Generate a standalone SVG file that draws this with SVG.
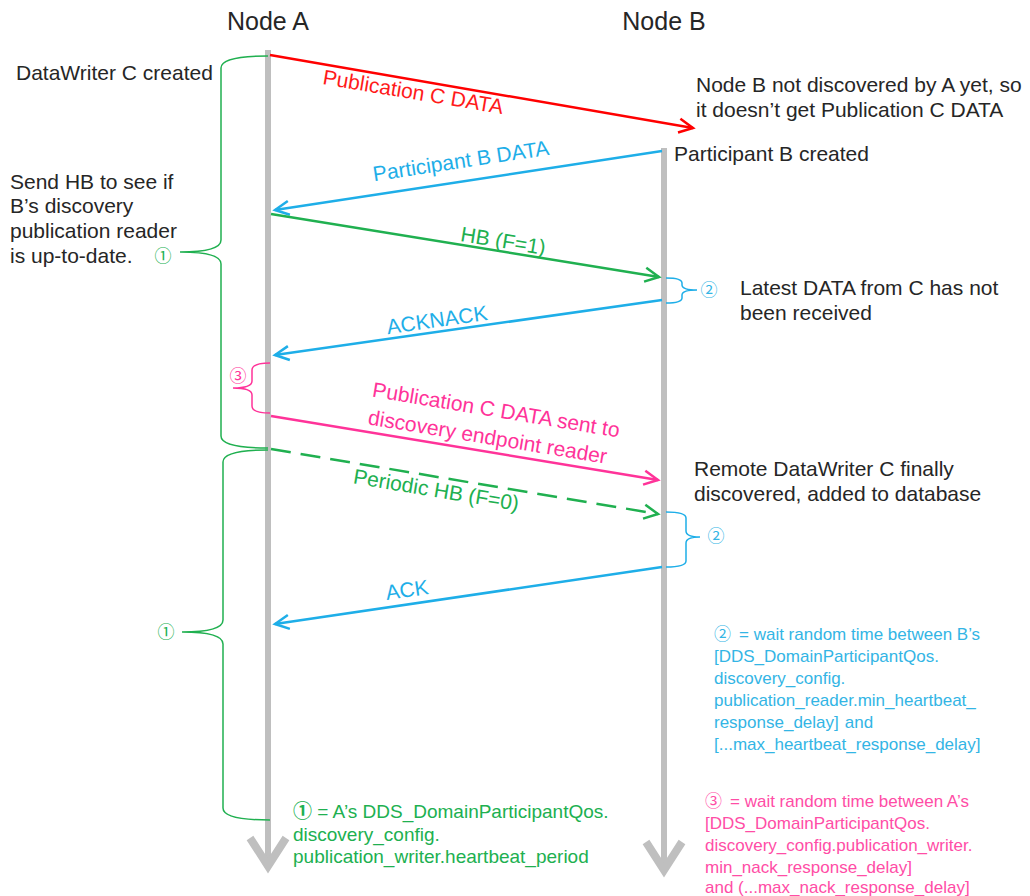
<svg xmlns="http://www.w3.org/2000/svg" width="1030" height="896" viewBox="0 0 1030 896">
<defs>
<style>
text{font-family:"Liberation Sans","Noto Sans CJK JP",Arial,sans-serif;}
.t{font-size:21px;fill:#262626;}
.title{font-size:25px;fill:#262626;text-anchor:middle;}
.lbl{font-size:21px;text-anchor:middle;}
.note{font-size:17px;}
.gnote{font-size:19px;}
.life{stroke:#bfbfbf;stroke-width:6;fill:none;}
.lifehead{stroke:#bfbfbf;stroke-width:8;fill:none;stroke-linecap:butt;}
.msg{stroke-width:2.5;fill:none;}
.brace{fill:none;stroke-width:1.5;}
.red{stroke:#ff0000;}
.blue{stroke:#1eaee8;}
.green{stroke:#20b050;}
.pink{stroke:#ff3399;}
</style>
<marker id="mRed" markerUnits="userSpaceOnUse" markerWidth="18" markerHeight="18" refX="14" refY="7" orient="auto" overflow="visible"><path d="M0,0 L14,7 L0,14" fill="none" stroke="#ff0000" stroke-width="2.5"/></marker>
<marker id="mBlue" markerUnits="userSpaceOnUse" markerWidth="18" markerHeight="18" refX="14" refY="7" orient="auto" overflow="visible"><path d="M0,0 L14,7 L0,14" fill="none" stroke="#1eaee8" stroke-width="2.5"/></marker>
<marker id="mGreen" markerUnits="userSpaceOnUse" markerWidth="18" markerHeight="18" refX="14" refY="7" orient="auto" overflow="visible"><path d="M0,0 L14,7 L0,14" fill="none" stroke="#20b050" stroke-width="2.5"/></marker>
<marker id="mPink" markerUnits="userSpaceOnUse" markerWidth="18" markerHeight="18" refX="14" refY="7" orient="auto" overflow="visible"><path d="M0,0 L14,7 L0,14" fill="none" stroke="#ff3399" stroke-width="2.5"/></marker>
</defs>
<rect width="1030" height="896" fill="#ffffff"/>

<g id="nodeA">
<text class="title" x="268" y="30">Node A</text>
<line class="life" x1="268" y1="50" x2="268" y2="862"/>
<polyline class="lifehead" points="250,838 268,866 286,838"/>
</g>
<g id="nodeB">
<text class="title" x="664" y="30">Node B</text>
<line class="life" x1="664" y1="148" x2="664" y2="866"/>
<polyline class="lifehead" points="646,842 664,870 682,842"/>
</g>

<g id="connectors">
<line class="msg red" x1="270" y1="55" x2="693" y2="128" marker-end="url(#mRed)"/>
<line class="msg blue" x1="662" y1="151" x2="275" y2="210" marker-end="url(#mBlue)"/>
<line class="msg green" x1="271" y1="214" x2="659" y2="277" marker-end="url(#mGreen)"/>
<line class="msg blue" x1="662" y1="300" x2="275" y2="355" marker-end="url(#mBlue)"/>
<line class="msg pink" x1="271" y1="416" x2="658" y2="480" marker-end="url(#mPink)"/>
<line class="msg green" x1="271" y1="449" x2="658" y2="514" stroke-dasharray="20,10" marker-end="url(#mGreen)"/>
<line class="msg blue" x1="662" y1="567" x2="275" y2="624" marker-end="url(#mBlue)"/>
</g>

<g id="labels">
<text class="lbl" fill="#ff1a1a" transform="translate(412,99) rotate(9.5)">Publication C DATA</text>
<text class="lbl" fill="#1eaee8" transform="translate(462,168) rotate(-8.6)">Participant B DATA</text>
<text class="lbl" fill="#20b050" transform="translate(502,248) rotate(9.3)">HB (F=1)</text>
<text class="lbl" fill="#1eaee8" transform="translate(438,327) rotate(-8.2)">ACKNACK</text>
<g transform="translate(495,417) rotate(9.4)">
<text class="lbl" fill="#ff3399" x="0" y="0">Publication C DATA sent to</text>
<text class="lbl" fill="#ff3399" x="-4" y="28">discovery endpoint reader</text>
</g>
<text class="lbl" fill="#20b050" transform="translate(435,497) rotate(9.4)">Periodic HB (F=0)</text>
<text class="lbl" fill="#1eaee8" transform="translate(408,597) rotate(-8.3)">ACK</text>
</g>

<g id="brace1">
<path class="brace green" d="M268,56 Q221,56 221,68 L221,240 Q221,252 180,252 Q221,252 221,264 L221,436 Q221,448 268,448"/>
<text class="note" x="163" y="262" fill="#20b050" text-anchor="middle">①</text>
</g>
<g id="brace1b">
<path class="brace green" d="M268,450 Q223,450 223,462 L223,620 Q223,632 182,632 Q223,632 223,644 L223,808 Q223,820 270,820"/>
<text class="note" x="166" y="638" fill="#20b050" text-anchor="middle">①</text>
</g>
<g id="brace3">
<path class="brace pink" d="M270,363 Q252,363 252,370 L252,381 Q252,388 233,388 Q252,388 252,395 L252,406 Q252,413 270,413"/>
<text class="note" x="238" y="382" fill="#ff3399" text-anchor="middle">③</text>
</g>
<g id="brace2a">
<path class="brace blue" d="M666,278 Q682,278 682,283 L682,285 Q682,290 697,290 Q682,290 682,295 L682,298 Q682,303 666,303"/>
<text class="note" x="709" y="296" fill="#33b5e5" text-anchor="middle">②</text>
</g>
<g id="brace2b">
<path class="brace blue" d="M666,512 Q686,512 686,518 L686,531 Q686,537 700,537 Q686,537 686,543 L686,561 Q686,567 666,567"/>
<text class="note" x="716" y="542" fill="#33b5e5" text-anchor="middle">②</text>
</g>

<g id="notes">
<text class="t" x="16" y="80">DataWriter C created</text>
<text class="t" x="10" y="189">Send HB to see if</text>
<text class="t" x="10" y="213">B’s discovery</text>
<text class="t" x="10" y="238">publication reader</text>
<text class="t" x="10" y="263">is up-to-date.</text>
<text class="t" x="696" y="92">Node B not discovered by A yet, so</text>
<text class="t" x="696" y="117">it doesn’t get Publication C DATA</text>
<text class="t" x="674" y="161">Participant B created</text>
<text class="t" x="740" y="295">Latest DATA from C has not</text>
<text class="t" x="740" y="320">been received</text>
<text class="t" x="694" y="476">Remote DataWriter C finally</text>
<text class="t" x="694" y="501">discovered, added to database</text>
</g>

<g id="note2" fill="#33b5e5">
<text class="note" x="714" y="640">②<tspan dx="8">= wait random time between B’s</tspan></text>
<text class="note" x="714" y="662">[DDS_DomainParticipantQos.</text>
<text class="note" x="714" y="684">discovery_config.</text>
<text class="note" x="714" y="706">publication_reader.min_heartbeat_</text>
<text class="note" x="714" y="728">response_delay]<tspan dx="6">and</tspan></text>
<text class="note" x="714" y="750">[...max_heartbeat_response_delay]</text>
</g>
<g id="note1" fill="#20b050">
<text class="gnote" x="293" y="818"><tspan font-weight="bold">①</tspan> = A’s DDS_DomainParticipantQos.</text>
<text class="gnote" x="293" y="841">discovery_config.</text>
<text class="gnote" x="293" y="863">publication_writer.heartbeat_period</text>
</g>
<g id="note3" fill="#ff4da6">
<text class="note" x="705" y="807">③<tspan dx="8">= wait random time between A’s</tspan></text>
<text class="note" x="705" y="829">[DDS_DomainParticipantQos.</text>
<text class="note" x="705" y="851">discovery_config.publication_writer.</text>
<text class="note" x="705" y="873">min_nack_response_delay]</text>
<text class="note" x="705" y="893">and (...max_nack_response_delay]</text>
</g>
</svg>
